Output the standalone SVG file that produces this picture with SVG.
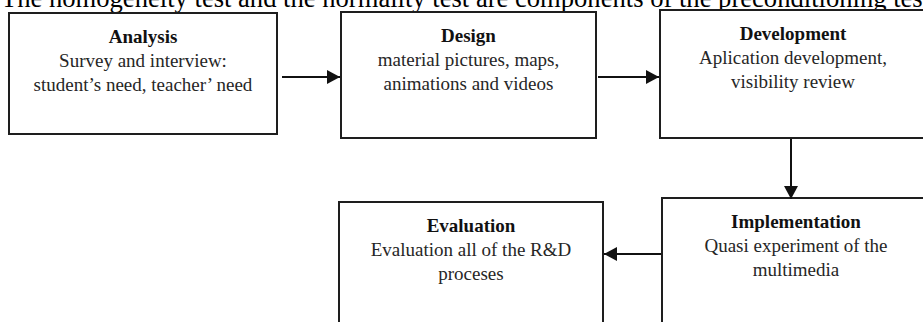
<svg xmlns="http://www.w3.org/2000/svg" width="923" height="322" viewBox="0 0 923 322">
  <defs>
    <style>
      .box { fill: #ffffff; stroke: #1e1e1e; stroke-width: 2; }
      .title { font-family: "Liberation Serif", "Times New Roman", serif; font-size: 19px; font-weight: bold; fill: #111; text-anchor: middle; }
      .body { font-family: "Liberation Serif", "Times New Roman", serif; font-size: 19px; fill: #262626; text-anchor: middle; }
      .conn { fill: none; stroke: #111; stroke-width: 2; }
      .heading { font-family: "Liberation Serif", "Times New Roman", serif; font-size: 26.6px; fill: #000; }
    </style>
    <marker id="arrow" markerUnits="userSpaceOnUse" markerWidth="14" markerHeight="16" refX="13" refY="7" orient="auto">
      <path d="M0,0 L13,7 L0,14 Z" fill="#111"/>
    </marker>
  </defs>

  <rect width="923" height="322" fill="#ffffff"/>

  <text class="heading" x="1" y="7">The homogeneity test and the normality test are components of the preconditioning test</text>

  <g id="analysis">
    <rect class="box" x="9" y="13" width="268" height="121"/>
    <text class="title" x="143" y="42.5">Analysis</text>
    <text class="body" x="143" y="66.5">Survey and interview:</text>
    <text class="body" x="143" y="90.5">student’s need, teacher’ need</text>
  </g>

  <g id="design">
    <rect class="box" x="341" y="12" width="255" height="126"/>
    <text class="title" x="468.5" y="41.5">Design</text>
    <text class="body" x="468.5" y="65.5">material pictures, maps,</text>
    <text class="body" x="468.5" y="89.5">animations and videos</text>
  </g>

  <g id="development">
    <rect class="box" x="660" y="10" width="266" height="128"/>
    <text class="title" x="793" y="39.5">Development</text>
    <text class="body" x="793" y="63.5">Aplication development,</text>
    <text class="body" x="793" y="87.5">visibility review</text>
  </g>

  <g id="implementation">
    <rect class="box" x="662" y="198" width="268" height="140"/>
    <text class="title" x="796" y="227.5">Implementation</text>
    <text class="body" x="796" y="251.5">Quasi experiment of the</text>
    <text class="body" x="796" y="275.5">multimedia</text>
  </g>

  <g id="evaluation">
    <rect class="box" x="339" y="202" width="264" height="136"/>
    <text class="title" x="471" y="231.5">Evaluation</text>
    <text class="body" x="471" y="255.5">Evaluation all of the R&amp;D</text>
    <text class="body" x="471" y="279.5">proceses</text>
  </g>

  <g id="connectors">
    <line class="conn" x1="282" y1="77" x2="340" y2="77" marker-end="url(#arrow)"/>
    <line class="conn" x1="598" y1="77" x2="659" y2="77" marker-end="url(#arrow)"/>
    <line class="conn" x1="791" y1="139" x2="791" y2="199" marker-end="url(#arrow)"/>
    <line class="conn" x1="661" y1="254" x2="604" y2="254" marker-end="url(#arrow)"/>
  </g>
</svg>
